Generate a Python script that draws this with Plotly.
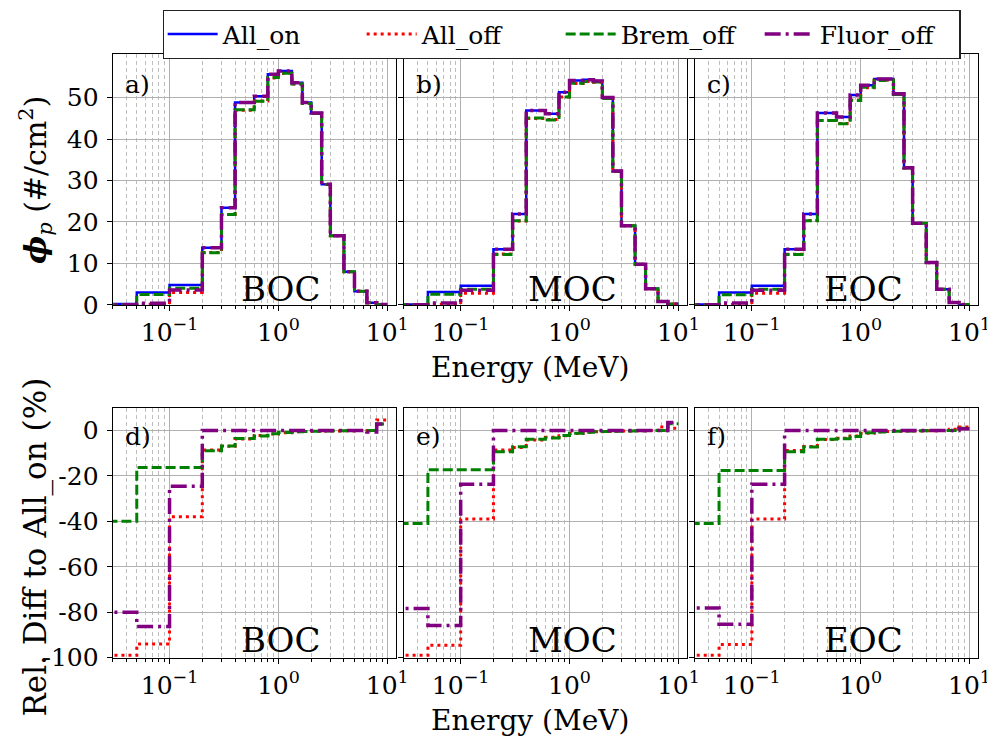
import math
import plotly.graph_objects as go

# ---------------- data ----------------
energy_edges = [0.02, 0.05, 0.1, 0.2, 0.3, 0.4, 0.6, 0.8, 1.0, 1.33, 1.66,
                2.0, 2.5, 3.0, 4.0, 5.0, 6.5, 8.0, 10.0]
series_names = ["All_on", "All_off", "Brem_off", "Fluor_off"]
cycle_labels = ["BOC", "MOC", "EOC"]
top_tags = ["a)", "b)", "c)"]
bottom_tags = ["d)", "e)", "f)"]
x_tick_vals = [0.1, 1, 10]
x_tick_text = ["10<sup>\u22121</sup>", "10<sup>0</sup>", "10<sup>1</sup>"]
flux_ticks = [0, 10, 20, 30, 40, 50]
diff_ticks = [0, -20, -40, -60, -80, -100]

# photon flux (#/cm2) per energy group
boc_all_on = [0.2, 3.0, 4.8, 13.8, 23.4, 48.8, 50.3, 55.6, 56.4, 53.6, 48.8, 46.3, 29.1, 16.7, 8.0, 3.3, 0.5, 0.1]
boc_all_off = [0.002, 0.18, 2.98, 12.61, 21.79, 46.95, 49.19, 54.71, 55.84, 53.28, 48.56, 46.16, 29.04, 16.67, 7.99, 3.3, 0.5, 0.105]
boc_brem_off = [0.12, 2.51, 4.02, 12.57, 21.81, 47.09, 49.09, 54.82, 55.89, 53.28, 48.6, 46.16, 29.04, 16.68, 7.99, 3.3, 0.5, 0.103]
boc_fluor_off = [0.04, 0.41, 3.62, 13.8, 23.4, 48.8, 50.3, 55.6, 56.4, 53.6, 48.8, 46.3, 29.1, 16.7, 8.0, 3.3, 0.5, 0.103]

moc_all_on = [0.1, 3.1, 4.6, 13.4, 21.9, 46.9, 46.1, 51.3, 54.1, 54.3, 54.0, 50.0, 32.3, 19.1, 9.8, 3.9, 0.8, 0.2]
moc_all_off = [0.001, 0.17, 2.81, 12.25, 20.26, 44.93, 44.72, 50.12, 53.40, 53.87, 53.68, 49.80, 32.20, 19.06, 9.79, 3.90, 0.81, 0.202]
moc_brem_off = [0.06, 2.56, 3.80, 12.14, 20.32, 45.07, 44.58, 50.17, 53.45, 53.87, 53.73, 49.80, 32.20, 19.06, 9.79, 3.90, 0.80, 0.206]
moc_fluor_off = [0.022, 0.44, 3.51, 13.4, 21.9, 46.9, 46.1, 51.3, 54.1, 54.3, 54.0, 50.0, 32.3, 19.1, 9.8, 3.9, 0.8, 0.207]

eoc_all_on = [0.1, 3.0, 4.6, 13.4, 21.9, 46.3, 45.3, 50.6, 53.0, 54.5, 54.5, 50.9, 33.1, 19.7, 10.2, 3.8, 0.6, 0.1]
eoc_all_off = [0.001, 0.17, 2.81, 12.22, 20.37, 44.45, 43.76, 49.39, 52.36, 54.17, 54.23, 50.75, 33.03, 19.66, 10.19, 3.80, 0.60, 0.102]
eoc_brem_off = [0.06, 2.47, 3.79, 12.14, 20.30, 44.49, 43.67, 49.28, 52.47, 54.12, 54.23, 50.75, 33.03, 19.68, 10.2, 3.8, 0.6, 0.101]
eoc_fluor_off = [0.022, 0.44, 3.51, 13.4, 21.9, 46.3, 45.3, 50.6, 53.0, 54.5, 54.5, 50.9, 33.1, 19.7, 10.2, 3.8, 0.6, 0.101]

# relative difference to All_on (%)
boc_diff_all_off = [-99, -94, -38, -8.6, -6.9, -3.8, -2.2, -1.6, -1.0, -0.6, -0.5, -0.3, -0.2, -0.2, -0.1, 0, 0, 4.6]
boc_diff_brem_off = [-40, -16.3, -16.3, -8.9, -6.8, -3.5, -2.4, -1.4, -0.9, -0.6, -0.4, -0.3, -0.2, -0.1, -0.1, 0, 0, 2.9]
boc_diff_fluor_off = [-80, -86.3, -24.5, 0, 0, 0, 0, 0, 0, 0, 0, 0, 0, 0, 0, 0, -0.7, 2.9]

moc_diff_all_off = [-99, -94.5, -39, -8.6, -7.5, -4.2, -3.0, -2.3, -1.3, -0.8, -0.6, -0.4, -0.3, -0.2, -0.1, 0, 1.5, 1.0]
moc_diff_brem_off = [-41, -17.3, -17.3, -9.4, -7.2, -3.9, -3.3, -2.2, -1.2, -0.8, -0.5, -0.4, -0.3, -0.2, -0.1, 0, 0, 3.0]
moc_diff_fluor_off = [-78.4, -85.9, -23.7, 0, 0, 0, 0, 0, 0, 0, 0, 0, 0, 0, 0, 0, 0, 3.5]

eoc_diff_all_off = [-99, -94.2, -39, -8.8, -7.0, -4.0, -3.4, -2.4, -1.2, -0.6, -0.5, -0.3, -0.2, -0.2, -0.1, 0, 0.5, 1.5]
eoc_diff_brem_off = [-41, -17.6, -17.6, -9.4, -7.3, -3.9, -3.6, -2.6, -1.0, -0.7, -0.5, -0.3, -0.2, -0.1, 0, 0, 0, 1.0]
eoc_diff_fluor_off = [-78.1, -85.3, -23.7, 0, 0, 0, 0, 0, 0, 0, 0, 0, 0, 0, 0, 0, 0, 0.8]

flux_sets = [
    [boc_all_on, boc_all_off, boc_brem_off, boc_fluor_off],
    [moc_all_on, moc_all_off, moc_brem_off, moc_fluor_off],
    [eoc_all_on, eoc_all_off, eoc_brem_off, eoc_fluor_off],
]
diff_sets = [
    [boc_diff_all_off, boc_diff_brem_off, boc_diff_fluor_off],
    [moc_diff_all_off, moc_diff_brem_off, moc_diff_fluor_off],
    [eoc_diff_all_off, eoc_diff_brem_off, eoc_diff_fluor_off],
]

# ---------------- style ----------------
W, H = 995, 744
FONT = "DejaVu Serif"
styles = {
    "All_on": dict(color="#0000ff", dash="solid", width=2.5),
    "All_off": dict(color="#ff0000", dash="3px,4px", width=3),
    "Brem_off": dict(color="#008000", dash="10px,4px", width=3),
    "Fluor_off": dict(color="#800080", dash="16px,5px,3px,5px", width=3.5),
}
col_px = [(106, 393), (401, 688), (696, 983)]
top_px = (47, 303)
bot_px = (408, 663)


def xdom(c):
    return [col_px[c][0] / W, col_px[c][1] / W]


def ydom(r):
    return [1 - r[1] / H, 1 - r[0] / H]


def step_xy(vals):
    return list(energy_edges), list(vals) + [vals[-1]]


fig = go.Figure()

for c in range(3):
    xa_top = "x" if c == 0 else f"x{c + 1}"
    ya_top = "y" if c == 0 else f"y{c + 1}"
    for name, vals in zip(series_names, flux_sets[c]):
        xs, ys = step_xy(vals)
        st = styles[name]
        fig.add_trace(go.Scatter(
            x=xs, y=ys, mode="lines", line_shape="hv", name=name,
            line=dict(color=st["color"], dash=st["dash"], width=st["width"]),
            xaxis=xa_top, yaxis=ya_top, showlegend=(c == 0), legendgroup=name))
    xa_bot = f"x{c + 4}"
    ya_bot = f"y{c + 4}"
    for name, vals in zip(series_names[1:], diff_sets[c]):
        xs, ys = step_xy(vals)
        st = styles[name]
        fig.add_trace(go.Scatter(
            x=xs, y=ys, mode="lines", line_shape="hv", name=name,
            line=dict(color=st["color"], dash=st["dash"], width=st["width"]),
            xaxis=xa_bot, yaxis=ya_bot, showlegend=False, legendgroup=name))

minor_vals = [m * 10 ** d for d in (-2, -1, 0) for m in range(2, 10)]

layout = {}
for r_i, rowpx in enumerate([top_px, bot_px]):
    for c in range(3):
        idx = r_i * 3 + c + 1
        xk = "xaxis" if idx == 1 else f"xaxis{idx}"
        yk = "yaxis" if idx == 1 else f"yaxis{idx}"
        ya_ref = "y" if idx == 1 else f"y{idx}"
        xa_ref = "x" if idx == 1 else f"x{idx}"
        layout[xk] = dict(
            type="log", domain=xdom(c), anchor=ya_ref,
            range=[math.log10(0.03), math.log10(12)],
            tickmode="array", tickvals=x_tick_vals, ticktext=x_tick_text,
            ticks="outside", ticklen=5, tickwidth=1, tickcolor="black",
            showline=True, linecolor="black", linewidth=1, mirror=True,
            showgrid=True, gridcolor="#b0b0b0", gridwidth=1,
            zeroline=False,
            tickfont=dict(family=FONT, size=25, color="black"),
            minor=dict(tickmode="array", tickvals=minor_vals, ticks="outside",
                       ticklen=3, tickcolor="black", tickwidth=1,
                       showgrid=True, gridcolor="#bdbdbd", griddash="4px,3px",
                       gridwidth=1),
        )
        if r_i == 0:
            yr, yt = [0, 60.5], flux_ticks
        else:
            yr, yt = [-100, 10], diff_ticks
        layout[yk] = dict(
            domain=ydom(rowpx), anchor=xa_ref, range=yr,
            tickmode="array", tickvals=yt, ticktext=[str(v) for v in yt],
            ticks="outside", ticklen=5, tickwidth=1, tickcolor="black",
            showticklabels=(c == 0), ticklabelstandoff=3,
            showline=True, linecolor="black", linewidth=1, mirror=True,
            showgrid=True, gridcolor="#b0b0b0", gridwidth=1, zeroline=False,
            tickfont=dict(family=FONT, size=25, color="black"),
        )

annotations = []
for c in range(3):
    for r_i, tags in enumerate([top_tags, bottom_tags]):
        idx = r_i * 3 + c + 1
        xr = "x domain" if idx == 1 else f"x{idx} domain"
        yr = "y domain" if idx == 1 else f"y{idx} domain"
        annotations.append(dict(
            text=tags[c], xref=xr, yref=yr, x=0.035, y=0.878 if r_i == 0 else 0.884,
            xanchor="left", yanchor="middle", showarrow=False,
            font=dict(family=FONT, size=25, color="black")))
        annotations.append(dict(
            text=cycle_labels[c], xref=xr, yref=yr, x=0.596,
            y=0.062 if r_i == 0 else 0.07,
            xanchor="center", yanchor="middle", showarrow=False,
            font=dict(family=FONT, size=34, color="black")))

annotations += [
    dict(text="Energy (MeV)", xref="paper", yref="paper", x=529 / W, y=1 - 367 / H,
         xanchor="center", yanchor="middle", showarrow=False,
         font=dict(family=FONT, size=28, color="black")),
    dict(text="Energy (MeV)", xref="paper", yref="paper", x=529 / W, y=1 - 727 / H,
         xanchor="center", yanchor="middle", showarrow=False,
         font=dict(family=FONT, size=28, color="black")),
    dict(text="<b><i>\u03d5</i></b><sub><i>p</i></sub><span style='font-weight:normal'> (#/cm<sup>2</sup>)</span>",
         xref="paper", yref="paper", x=28 / W, y=1 - 175 / H, textangle=-90,
         xanchor="center", yanchor="middle", showarrow=False,
         font=dict(family=FONT, size=30, color="black")),
    dict(text="Rel. Diff to All_on (%)", xref="paper", yref="paper",
         x=28 / W, y=1 - 550 / H, textangle=-90,
         xanchor="center", yanchor="middle", showarrow=False,
         font=dict(family=FONT, size=31, color="black")),
]

fig.update_layout(
    width=W, height=H, autosize=False,
    margin=dict(l=0, r=0, t=0, b=0),
    paper_bgcolor="white", plot_bgcolor="white",
    font=dict(family=FONT, color="black"),
    annotations=annotations,
    legend=dict(orientation="h", x=561 / W, xanchor="center", y=1 - 2 / H, yanchor="top",
                font=dict(family=FONT, size=25, color="black"),
                bordercolor="#222222", borderwidth=1.3, bgcolor="white",
                entrywidth=134, entrywidthmode="pixels", itemwidth=50,
                tracegroupgap=0),
    **layout,
)

fig.write_html("out.html")
